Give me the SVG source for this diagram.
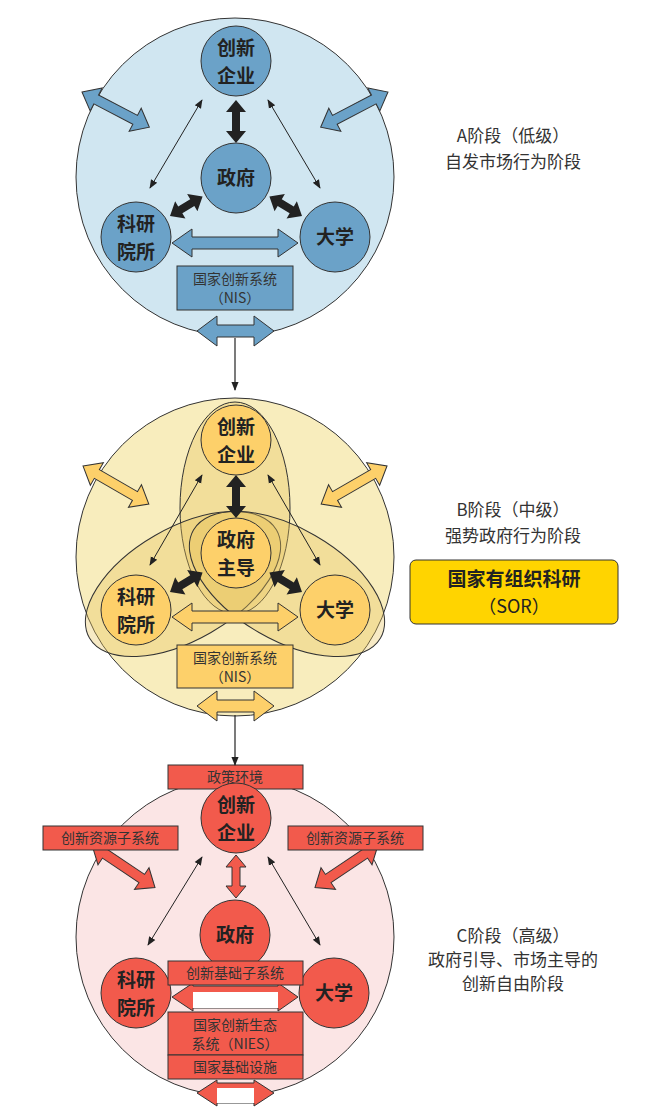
<svg xmlns="http://www.w3.org/2000/svg" width="651" height="1112" viewBox="0 0 651 1112">
<style>
text{font-family:"Noto Sans CJK SC","Noto Sans",sans-serif;text-anchor:middle;fill:#222}
.nl{font-size:19px;font-weight:bold}
.bx{font-size:14px;fill:#333}
.side{font-size:17px;fill:#333}
.ol{stroke:#333;stroke-width:1}
.thin{stroke:#222;stroke-width:1;fill:none;marker-start:url(#ah);marker-end:url(#ah)}
.conn{stroke:#222;stroke-width:1.2;fill:none;marker-end:url(#ah2)}
</style>
<defs>
<marker id="ah" viewBox="0 0 10 10" refX="9" refY="5" markerWidth="9" markerHeight="9" orient="auto-start-reverse" markerUnits="userSpaceOnUse"><path d="M0,1 L10,5 L0,9 Z" fill="#222"/></marker>
<marker id="ah2" viewBox="0 0 10 10" refX="9" refY="5" markerWidth="9" markerHeight="9" orient="auto" markerUnits="userSpaceOnUse"><path d="M0,1 L10,5 L0,9 Z" fill="#222"/></marker>
<polygon id="bigDiag" points="0,0 16,-13 16,-5 60,-5 60,-13 76,0 60,13 60,5 16,5 16,13"/>
<polygon id="blk" points="0,0 12,-10 12,-4 26,-4 26,-10 38,0 26,10 26,4 12,4 12,10"/>
<polygon id="blkV" points="0,0 12,-10 12,-4 31,-4 31,-10 43,0 31,10 31,4 12,4 12,10"/>
<polygon id="hor" points="172,0 192,-14 192,-6 278,-6 278,-14 298,0 278,14 278,6 192,6 192,14"/>
<polygon id="bot" points="197,0 217,-15 217,-6 254,-6 254,-15 274,0 254,15 254,6 217,6 217,15"/>
</defs>

<!-- ===== Stage A ===== -->
<g id="stageA">
<circle cx="235" cy="177" r="159" fill="#d0e6f1" class="ol"/>
<use href="#bigDiag" transform="translate(82,92) rotate(27.6)" fill="#6ba2c8" class="ol"/>
<use href="#bigDiag" transform="translate(388,92) rotate(152.4)" fill="#6ba2c8" class="ol"/>
<use href="#hor" transform="translate(0,243)" fill="#6ba2c8" class="ol"/>
<use href="#bot" transform="translate(0,331)" fill="#6ba2c8" class="ol"/>
<use href="#blkV" transform="translate(236,100) rotate(90)" fill="#222"/>
<use href="#blk" transform="translate(170,216) rotate(-31)" fill="#222"/>
<use href="#blk" transform="translate(302,216) rotate(-149)" fill="#222"/>
</g>
<g id="A-qiye"><circle cx="236" cy="61" r="35" fill="#6ba2c8" class="ol"/><text class="nl" x="236" y="55">创新</text><text class="nl" x="236" y="83">企业</text></g>
<g id="A-zhengfu"><circle cx="236" cy="178" r="35" fill="#6ba2c8" class="ol"/><text class="nl" x="236" y="185">政府</text></g>
<g id="A-keyan"><circle cx="136" cy="237" r="35" fill="#6ba2c8" class="ol"/><text class="nl" x="136" y="231">科研</text><text class="nl" x="136" y="259">院所</text></g>
<g id="A-daxue"><circle cx="335" cy="237" r="35" fill="#6ba2c8" class="ol"/><text class="nl" x="335" y="244">大学</text></g>
<g id="A-nis"><rect x="177" y="266" width="116" height="44" fill="#6ba2c8" class="ol"/><text class="bx" x="235" y="284">国家创新系统</text><text class="bx" x="235" y="303">（NIS）</text></g>
<g id="A-label"><text class="side" x="513" y="142">A阶段（低级）</text><text class="side" x="513" y="168">自发市场行为阶段</text></g>

<!-- ===== Stage B ===== -->
<g id="stageB">
<circle cx="235" cy="557" r="159" fill="#f8edbd" class="ol"/>
<use href="#bigDiag" transform="translate(83,466) rotate(30)" fill="#fdd06a" class="ol"/>
<use href="#bigDiag" transform="translate(387,466) rotate(150)" fill="#fdd06a" class="ol"/>
<ellipse cx="235" cy="508" rx="55" ry="106" fill="#e8c45a" fill-opacity="0.35" class="ol"/>
<ellipse cx="183" cy="584" rx="56" ry="108" transform="rotate(60 183 584)" fill="#e8c45a" fill-opacity="0.35" class="ol"/>
<ellipse cx="287" cy="584" rx="56" ry="108" transform="rotate(-60 287 584)" fill="#e8c45a" fill-opacity="0.35" class="ol"/>
<use href="#hor" transform="translate(0,617)" fill="#fdd06a" class="ol"/>
<use href="#bot" transform="translate(0,706)" fill="#fdd06a" class="ol"/>
<use href="#blkV" transform="translate(236,475) rotate(90)" fill="#222"/>
<use href="#blk" transform="translate(170,592) rotate(-31)" fill="#222"/>
<use href="#blk" transform="translate(302,592) rotate(-149)" fill="#222"/>
</g>
<g id="B-qiye"><circle cx="236" cy="440" r="35" fill="#fdd06a" class="ol"/><text class="nl" x="236" y="434">创新</text><text class="nl" x="236" y="462">企业</text></g>
<g id="B-zhengfu"><circle cx="236" cy="553" r="35" fill="#fdd06a" class="ol"/><text class="nl" x="236" y="547">政府</text><text class="nl" x="236" y="575">主导</text></g>
<g id="B-keyan"><circle cx="136" cy="610" r="35" fill="#fdd06a" class="ol"/><text class="nl" x="136" y="604">科研</text><text class="nl" x="136" y="632">院所</text></g>
<g id="B-daxue"><circle cx="335" cy="610" r="35" fill="#fdd06a" class="ol"/><text class="nl" x="335" y="617">大学</text></g>
<g id="B-nis"><rect x="177" y="645" width="116" height="43" fill="#fdd06a" class="ol"/><text class="bx" x="235" y="663">国家创新系统</text><text class="bx" x="235" y="682">（NIS）</text></g>
<g id="B-label"><text class="side" x="513" y="516">B阶段（中级）</text><text class="side" x="513" y="542">强势政府行为阶段</text></g>
<g id="SOR"><rect x="410" y="560" width="208" height="64" rx="6" fill="#ffd400" class="ol"/><text x="514" y="586" style="font-size:19px;font-weight:bold">国家有组织科研</text><text x="514" y="613" style="font-size:18px">（SOR）</text></g>

<!-- ===== Stage C ===== -->
<g id="stageC">
<circle cx="235" cy="937" r="159" fill="#fbe5e5" class="ol"/>
<use href="#bigDiag" transform="translate(92,845) rotate(34)" fill="#f25a4c" class="ol"/>
<use href="#bigDiag" transform="translate(378,845) rotate(146)" fill="#f25a4c" class="ol"/>
<use href="#blkV" transform="translate(236,855) rotate(90)" fill="#f25a4c" class="ol"/>
<polygon points="172,997 193,983 193,986 278,986 278,983 298,997 278,1011 278,1008 193,1008 193,1011" fill="#f25a4c" class="ol"/>
<rect x="193" y="992" width="85" height="16" fill="#fff"/>
<polygon points="197,1093 217,1080 217,1083 254,1083 254,1080 274,1093 254,1106 254,1103 217,1103 217,1106" fill="#f25a4c" class="ol"/>
<rect x="217" y="1088" width="37" height="15" fill="#fff"/>
</g>
<g id="C-zhengce"><rect x="168" y="765" width="135" height="24" fill="#f25a4c" class="ol"/><text class="bx" x="235" y="782">政策环境</text></g>
<g id="C-qiye"><circle cx="236" cy="818" r="35" fill="#f25a4c" class="ol"/><text class="nl" x="236" y="812">创新</text><text class="nl" x="236" y="840">企业</text></g>
<g id="C-ziyuanL"><rect x="43" y="826" width="135" height="24" fill="#f25a4c" class="ol"/><text class="bx" x="110" y="843">创新资源子系统</text></g>
<g id="C-ziyuanR"><rect x="288" y="826" width="135" height="24" fill="#f25a4c" class="ol"/><text class="bx" x="355" y="843">创新资源子系统</text></g>
<g id="C-zhengfu"><circle cx="235" cy="935" r="35" fill="#f25a4c" class="ol"/><text class="nl" x="235" y="942">政府</text></g>
<g id="C-keyan"><circle cx="136" cy="993" r="35" fill="#f25a4c" class="ol"/><text class="nl" x="136" y="987">科研</text><text class="nl" x="136" y="1015">院所</text></g>
<g id="C-daxue"><circle cx="334" cy="993" r="35" fill="#f25a4c" class="ol"/><text class="nl" x="334" y="1000">大学</text></g>
<g id="C-jichuzi"><rect x="168" y="961" width="135" height="24" fill="#f25a4c" class="ol"/><text class="bx" x="235" y="978">创新基础子系统</text></g>
<g id="C-nies"><rect x="168" y="1012" width="135" height="43" fill="#f25a4c" class="ol"/><text class="bx" x="235" y="1030">国家创新生态</text><text class="bx" x="235" y="1049">系统（NIES）</text></g>
<g id="C-jichusheshi"><rect x="168" y="1055" width="135" height="24" fill="#f25a4c" class="ol"/><text class="bx" x="235" y="1072">国家基础设施</text></g>
<g id="C-label"><text class="side" x="513" y="942">C阶段（高级）</text><text class="side" x="513" y="966">政府引导、市场主导的</text><text class="side" x="513" y="990">创新自由阶段</text></g>

<!-- connectors -->
<g id="connectors">
<line class="thin" x1="202" y1="100" x2="150" y2="188"/>
<line class="thin" x1="268" y1="100" x2="320" y2="188"/>
<line class="thin" x1="202" y1="475" x2="150" y2="565"/>
<line class="thin" x1="268" y1="475" x2="320" y2="565"/>
<line class="thin" x1="202" y1="857" x2="148" y2="945"/>
<line class="thin" x1="268" y1="857" x2="320" y2="945"/>
<line class="conn" x1="235" y1="338" x2="235" y2="390"/>
<line class="conn" x1="235" y1="715" x2="235" y2="765"/>
</g>
</svg>
